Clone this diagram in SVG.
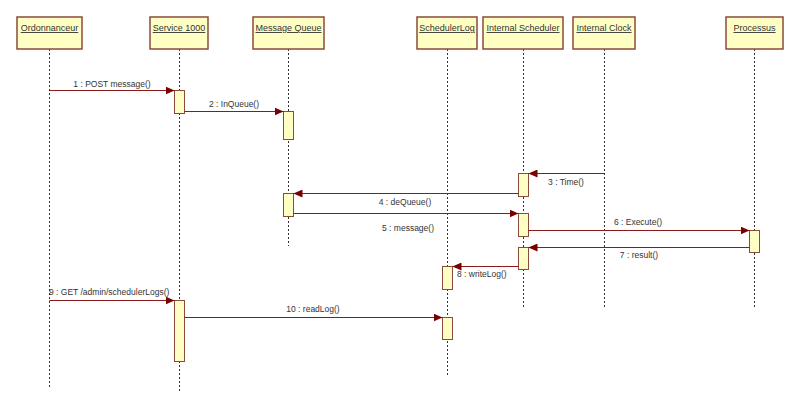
<svg xmlns="http://www.w3.org/2000/svg" width="800" height="411" viewBox="0 0 800 411">
<style>
.bg{fill:#ffffff}
.head{fill:#ffffc4;stroke:#8a4b3c;stroke-width:1.5}
.act{fill:#ffffc4;stroke:#8a4b3c;stroke-width:1}
.life{stroke:#333333;stroke-width:1;stroke-dasharray:2 2;fill:none}
.name{font-family:"Liberation Sans",Arial,sans-serif;font-size:9px;fill:#333333;text-anchor:middle;text-decoration:underline}
.msg{stroke:#8b1a1a;stroke-width:1;fill:none;marker-end:url(#ah)}
.lbl{font-family:"Liberation Sans",Arial,sans-serif;font-size:8.5px;fill:#333333;text-anchor:middle}
</style>
<defs>
<marker id="ah" markerUnits="userSpaceOnUse" markerWidth="9" markerHeight="8" refX="9" refY="4" orient="auto">
<path d="M0,0 L9,4 L0,8 z" fill="#7a0000"/>
</marker>
</defs>
<rect class="bg" x="0" y="0" width="800" height="411"/>

<g id="ordonnanceur">
<line class="life" x1="49.5" y1="49" x2="49.5" y2="387"/>
<rect class="head" x="17" y="17" width="65" height="32"/>
<text class="name" x="49.5" y="31">Ordonnanceur</text>
</g>

<g id="service1000">
<line class="life" x1="179.5" y1="49" x2="179.5" y2="391"/>
<rect class="head" x="150" y="17" width="58" height="32"/>
<text class="name" x="179" y="31">Service 1000</text>
<rect class="act" x="174.5" y="90.5" width="10" height="23"/>
<rect class="act" x="174.5" y="300.5" width="10" height="61"/>
</g>

<g id="messagequeue">
<line class="life" x1="288.5" y1="49" x2="288.5" y2="246"/>
<rect class="head" x="253" y="17" width="71" height="32"/>
<text class="name" x="288.5" y="31">Message Queue</text>
<rect class="act" x="283.5" y="111.5" width="10" height="28"/>
<rect class="act" x="283.5" y="193.5" width="10" height="23"/>
</g>

<g id="schedulerlog">
<line class="life" x1="447.5" y1="49" x2="447.5" y2="375"/>
<rect class="head" x="417" y="17" width="60" height="32"/>
<text class="name" x="447" y="31">SchedulerLog</text>
<rect class="act" x="442.5" y="266.5" width="10" height="23"/>
<rect class="act" x="442.5" y="317.5" width="10" height="22"/>
</g>

<g id="internalscheduler">
<line class="life" x1="523.5" y1="49" x2="523.5" y2="307"/>
<rect class="head" x="483" y="17" width="80" height="32"/>
<text class="name" x="523" y="31">Internal Scheduler</text>
<rect class="act" x="518.5" y="173.5" width="10" height="23"/>
<rect class="act" x="518.5" y="213.5" width="10" height="23"/>
<rect class="act" x="518.5" y="247.5" width="10" height="22"/>
</g>

<g id="internalclock">
<line class="life" x1="604.5" y1="49" x2="604.5" y2="307"/>
<rect class="head" x="573" y="17" width="62" height="32"/>
<text class="name" x="604" y="31">Internal Clock</text>
</g>

<g id="processus">
<line class="life" x1="754.5" y1="49" x2="754.5" y2="307"/>
<rect class="head" x="726" y="17" width="57" height="32"/>
<text class="name" x="754.5" y="31">Processus</text>
<rect class="act" x="749.5" y="230.5" width="10" height="22"/>
</g>

<g id="connectors">
<line class="msg" x1="49.5" y1="90.5" x2="174.5" y2="90.5"/>
<text class="lbl" x="112" y="87">1 : POST message()</text>
<line class="msg" x1="184.5" y1="111.5" x2="283.5" y2="111.5"/>
<text class="lbl" x="234" y="107">2 : InQueue()</text>
<line class="msg" x1="604.5" y1="173.5" x2="528.5" y2="173.5"/>
<text class="lbl" x="566" y="185">3 : Time()</text>
<line class="msg" x1="518.5" y1="193.5" x2="293.5" y2="193.5"/>
<text class="lbl" x="405" y="205">4 : deQueue()</text>
<line class="msg" x1="293.5" y1="213.5" x2="518.5" y2="213.5"/>
<text class="lbl" x="408" y="231">5 : message()</text>
<line class="msg" x1="528.5" y1="230.5" x2="749.5" y2="230.5"/>
<text class="lbl" x="638" y="225">6 : Execute()</text>
<line class="msg" x1="749.5" y1="247.5" x2="528.5" y2="247.5"/>
<text class="lbl" x="639" y="258">7 : result()</text>
<line class="msg" x1="518.5" y1="266.5" x2="452.5" y2="266.5"/>
<text class="lbl" x="457" y="277" style="text-anchor:start">8 : writeLog()</text>
<line class="msg" x1="49.5" y1="300.5" x2="174.5" y2="300.5"/>
<text class="lbl" x="49" y="295" style="text-anchor:start">9 : GET /admin/schedulerLogs()</text>
<line class="msg" x1="184.5" y1="317.5" x2="442.5" y2="317.5"/>
<text class="lbl" x="313" y="312">10 : readLog()</text>
</g>
</svg>
